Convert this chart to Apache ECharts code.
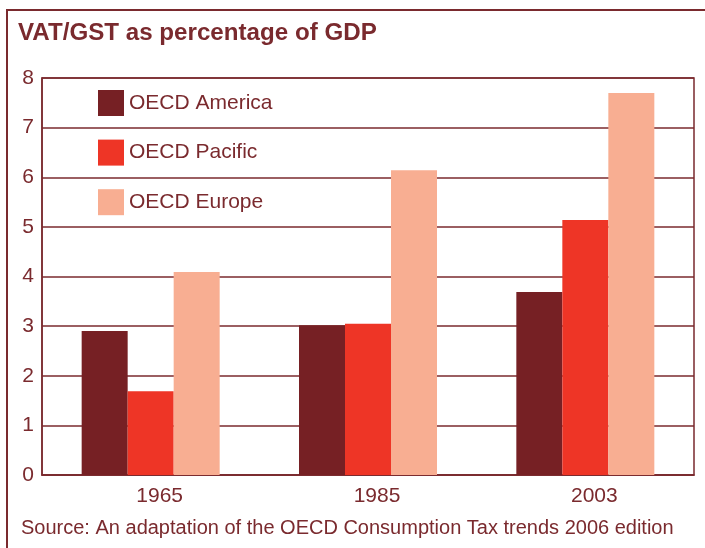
<!DOCTYPE html>
<html>
<head>
<meta charset="utf-8">
<script src="https://cdn.jsdelivr.net/npm/echarts@6/dist/echarts.min.js"></script>
<style>
  html, body { margin: 0; padding: 0; background: #fff; }
  #chart { width: 705px; height: 548px; }
</style>
</head>
<body>
<div id="chart"></div>
<script>
// Years on the category axis
const years = ['1965', '1985', '2003'];
// VAT/GST revenue as % of GDP by region
const oecdAmerica = [2.9, 3.02, 3.69];
const oecdPacific = [1.69, 3.05, 5.14];
const oecdEurope = [4.09, 6.14, 7.70];
const yTicks = [0, 8, 1]; // min, max, interval

const ink = '#7a2a2e';
const sans = '"Liberation Sans", Arial, sans-serif';
const chart = echarts.init(document.getElementById('chart'));

chart.setOption({
  animation: false,
  backgroundColor: '#ffffff',
  title: {
    text: 'Source: An adaptation of the OECD Consumption Tax trends 2006 edition',
    left: 21,
    top: 518,
    padding: 0,
    textStyle: {
      fontFamily: sans,
      fontWeight: 'normal',
      fontSize: 20,
      color: ink
    }
  },
  graphic: [
    // frame along the top and left edges
    {
      type: 'polyline',
      shape: { points: [[7, 548], [7, 10], [705, 10]] },
      style: { stroke: ink, lineWidth: 2, fill: null }
    },
    // bold heading
    {
      type: 'text',
      x: 18,
      y: 22,
      scaleX: 1.05,
      style: {
        text: 'VAT/GST as percentage of GDP',
        font: 'bold 23px ' + sans,
        fill: ink,
        textAlign: 'left',
        textVerticalAlign: 'top'
      }
    }
  ],
  legend: {
    orient: 'vertical',
    left: 98,
    top: 90,
    padding: 0,
    itemWidth: 26,
    itemHeight: 26,
    itemGap: 23.6,
    icon: 'rect',
    textStyle: {
      fontFamily: sans,
      fontSize: 21,
      color: ink
    },
    data: ['OECD America', 'OECD Pacific', 'OECD Europe']
  },
  grid: {
    left: 42,
    right: 11,
    top: 78,
    bottom: 73,
    show: true,
    borderColor: ink,
    borderWidth: 1.5,
    backgroundColor: 'transparent'
  },
  xAxis: {
    type: 'category',
    data: years,
    axisLine: { show: true, lineStyle: { color: ink, width: 1.5 } },
    axisTick: { show: false },
    axisLabel: {
      fontFamily: sans,
      fontSize: 21,
      color: ink,
      margin: 11,
      padding: [0, 0, 0, 18]
    }
  },
  yAxis: {
    type: 'value',
    min: yTicks[0],
    max: yTicks[1],
    interval: yTicks[2],
    axisLine: { show: true, lineStyle: { color: ink, width: 1.5 } },
    axisTick: { show: false },
    splitLine: { show: true, lineStyle: { color: ink, width: 1.5 } },
    axisLabel: {
      fontFamily: sans,
      fontSize: 21,
      color: ink,
      margin: 8
    }
  },
  series: [
    {
      name: 'OECD America',
      type: 'bar',
      data: oecdAmerica,
      barWidth: 46,
      barGap: '0%',
      itemStyle: { color: '#762024' }
    },
    {
      name: 'OECD Pacific',
      type: 'bar',
      data: oecdPacific,
      barWidth: 46,
      barGap: '0%',
      itemStyle: { color: '#ee3526' }
    },
    {
      name: 'OECD Europe',
      type: 'bar',
      data: oecdEurope,
      barWidth: 46,
      barGap: '0%',
      itemStyle: { color: '#f8ae92' }
    }
  ]
});
</script>
</body>
</html>
